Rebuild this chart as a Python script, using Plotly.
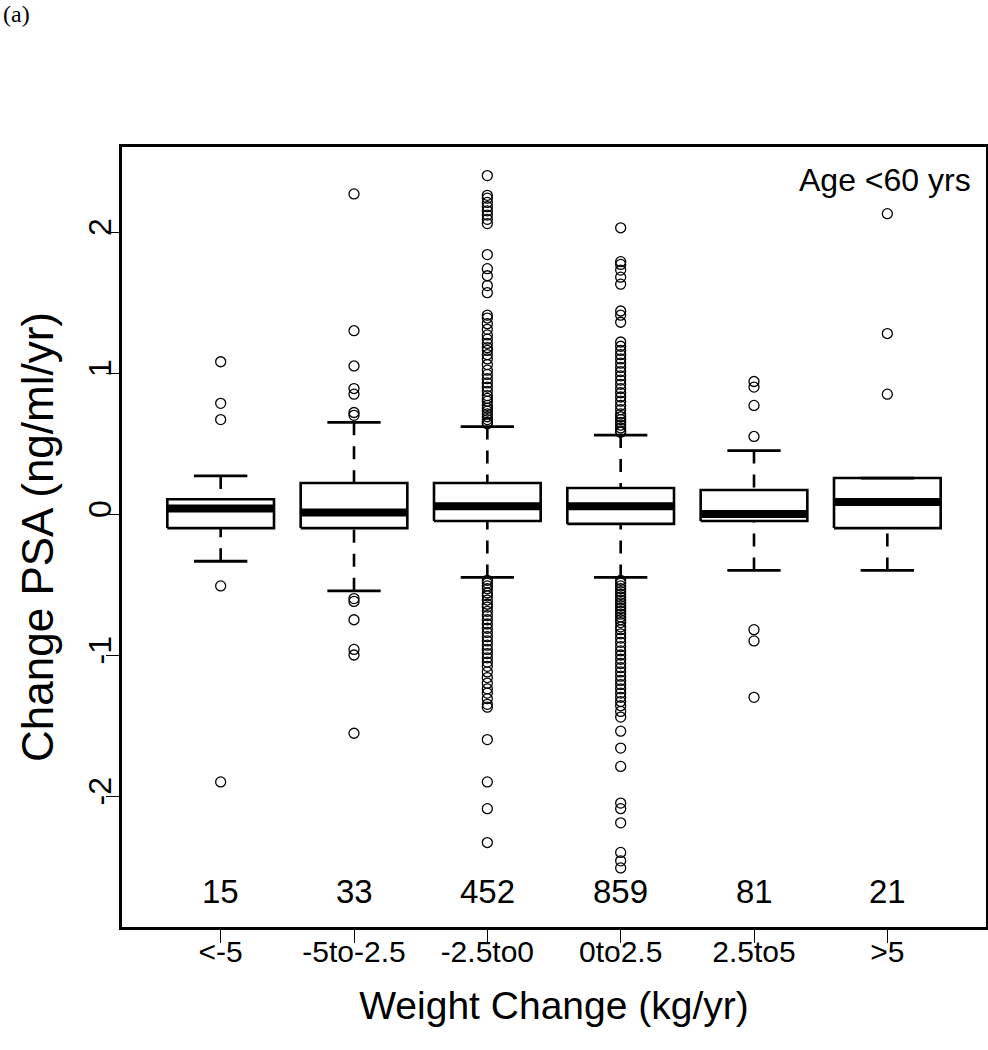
import plotly.graph_objects as go

# ---------------- data ----------------
categories = ["<-5", "-5to-2.5", "-2.5to0", "0to2.5", "2.5to5", ">5"]
counts = [15, 33, 452, 859, 81, 21]

q1 = [-0.10, -0.10, -0.05, -0.07, -0.05, -0.10]
median = [0.04, 0.01, 0.055, 0.055, 0.00, 0.085]
q3 = [0.105, 0.22, 0.22, 0.185, 0.17, 0.255]
lower_whisker = [-0.335, -0.545, -0.45, -0.45, -0.40, -0.40]
upper_whisker = [0.27, 0.65, 0.62, 0.56, 0.45, 0.255]

outliers_1 = [1.08, 0.785, 0.67, -0.51, -1.90]
outliers_2 = [2.27, 1.30, 1.05, 0.89, 0.85, 0.72, 0.70,
              -0.60, -0.62, -0.75, -0.96, -1.00, -1.555]
outliers_3 = [2.40, 2.26, 2.24, 2.21, 2.18, 2.15, 2.12, 2.09, 2.06,
              1.84, 1.74, 1.69, 1.62, 1.57,
              1.41, 1.39, 1.35, 1.31, 1.27, 1.24, 1.21, 1.18, 1.16, 1.13,
              1.10, 1.06, 1.02, 0.99, 0.96, 0.93, 0.90, 0.87, 0.84, 0.82,
              0.80, 0.77, 0.75, 0.73, 0.71, 0.69, 0.67, 0.65, 0.64,
              -0.47, -0.49, -0.51, -0.53, -0.56, -0.58, -0.61, -0.64, -0.66,
              -0.69, -0.72, -0.75, -0.78, -0.81, -0.84, -0.87, -0.90, -0.93,
              -0.96, -0.99, -1.02, -1.05, -1.08, -1.12, -1.16, -1.20, -1.24,
              -1.27, -1.31, -1.35, -1.37, -1.60, -1.90, -2.09, -2.33]
outliers_4 = [2.03, 1.79, 1.77, 1.73, 1.68, 1.63, 1.44, 1.41, 1.36,
              1.22, 1.19, 1.16, 1.13, 1.10, 1.07, 1.04, 1.01, 0.98, 0.95,
              0.92, 0.89, 0.86, 0.83, 0.80, 0.77, 0.74, 0.71, 0.69, 0.67,
              0.65, 0.63, 0.61, 0.59, 0.58,
              -0.47, -0.49, -0.51, -0.53, -0.55, -0.57, -0.59, -0.61, -0.63,
              -0.65, -0.67, -0.69, -0.71, -0.73, -0.75, -0.77, -0.80, -0.82,
              -0.85, -0.88, -0.91, -0.94, -0.97, -1.00, -1.03, -1.06, -1.09,
              -1.12, -1.15, -1.18, -1.21, -1.24, -1.27, -1.30, -1.33, -1.36,
              -1.40, -1.44, -1.54, -1.66, -1.79, -2.05, -2.09, -2.19, -2.40,
              -2.46, -2.51]
outliers_5 = [0.94, 0.90, 0.77, 0.55, -0.82, -0.90, -1.30]
outliers_6 = [2.13, 1.28, 0.85]
outliers = [outliers_1, outliers_2, outliers_3, outliers_4, outliers_5, outliers_6]

panel_label = "(a)"
subgroup_label = "Age <60 yrs"
x_title = "Weight Change (kg/yr)"
y_title = "Change PSA (ng/ml/yr)"

# ---------------- figure ----------------
FONT = "Liberation Sans, Arial, sans-serif"
half_box = 0.4
half_staple = 0.2
count_y = -2.68

fig = go.Figure()
positions = list(range(1, len(categories) + 1))

for i, pos in enumerate(positions):
    fig.add_trace(go.Scatter(
        x=[pos - half_box, pos + half_box, pos + half_box, pos - half_box, pos - half_box],
        y=[q1[i], q1[i], q3[i], q3[i], q1[i]],
        mode="lines", fill="toself", fillcolor="white",
        line=dict(color="black", width=2.6), hoverinfo="skip", showlegend=False))
    fig.add_trace(go.Scatter(
        x=[pos - half_box, pos + half_box], y=[median[i], median[i]],
        mode="lines", line=dict(color="black", width=8),
        hoverinfo="skip", showlegend=False))
    for end, edge in ((upper_whisker[i], q3[i]), (lower_whisker[i], q1[i])):
        if end != edge:
            fig.add_trace(go.Scatter(
                x=[pos, pos], y=[end, edge], mode="lines",
                line=dict(color="black", width=2.6, dash="13px,11px"),
                hoverinfo="skip", showlegend=False))
        fig.add_trace(go.Scatter(
            x=[pos - half_staple, pos + half_staple], y=[end, end], mode="lines",
            line=dict(color="black", width=2.8), hoverinfo="skip", showlegend=False))
    fig.add_trace(go.Scatter(
        x=[pos] * len(outliers[i]), y=outliers[i], mode="markers",
        marker=dict(symbol="circle-open", size=10, color="black", line=dict(width=1.3)),
        showlegend=False, name=categories[i]))
    fig.add_annotation(x=pos, y=count_y, xref="x", yref="y", text=str(counts[i]),
                       showarrow=False, font=dict(family=FONT, size=33, color="black"))

fig.add_annotation(x=0.985, y=0.958, xref="paper", yref="paper", text=subgroup_label,
                   xanchor="right", yanchor="middle", showarrow=False,
                   font=dict(family=FONT, size=32, color="black"))
fig.add_annotation(x=-0.1400, y=1.1700, xref="paper", yref="paper", text=panel_label,
                   xanchor="left", yanchor="middle", showarrow=False,
                   font=dict(family="Liberation Serif, Times New Roman, serif", size=24, color="black"))

fig.update_layout(
    width=988, height=1050,
    margin=dict(l=122, r=2, t=147, b=123),
    paper_bgcolor="white", plot_bgcolor="white",
    font=dict(family=FONT, color="black"),
    showlegend=False,
    xaxis=dict(
        range=[0.26, 6.74], tickmode="array", tickvals=positions, ticktext=categories,
        showgrid=False, zeroline=False, showline=True, mirror=True,
        linecolor="black", linewidth=2.6, ticks="outside", ticklen=13, tickwidth=1,
        tickcolor="black", tickfont=dict(family=FONT, size=30),
        ticklabelstandoff=-17,
        title=dict(text=x_title, font=dict(family=FONT, size=39), standoff=25),
        automargin=False),
    yaxis=dict(
        range=[-2.929, 2.603], tickmode="array", tickvals=[-2, -1, 0, 1, 2],
        ticktext=["-2", "-1", "0", "1", "2"], tickangle=-90,
        showgrid=False, zeroline=False, showline=True, mirror=True,
        linecolor="black", linewidth=2.6, ticks="outside", ticklen=13, tickwidth=1,
        tickcolor="black", tickfont=dict(family=FONT, size=32),
        ticklabelstandoff=-18,
        title=dict(text=y_title, font=dict(family=FONT, size=44), standoff=16),
        automargin=False),
)

# remove the browser's default 8px page margin so the figure sits at the page origin
fig.write_html("out.html", config={"displayModeBar": False},
               post_script="document.body.style.margin='0px';")
